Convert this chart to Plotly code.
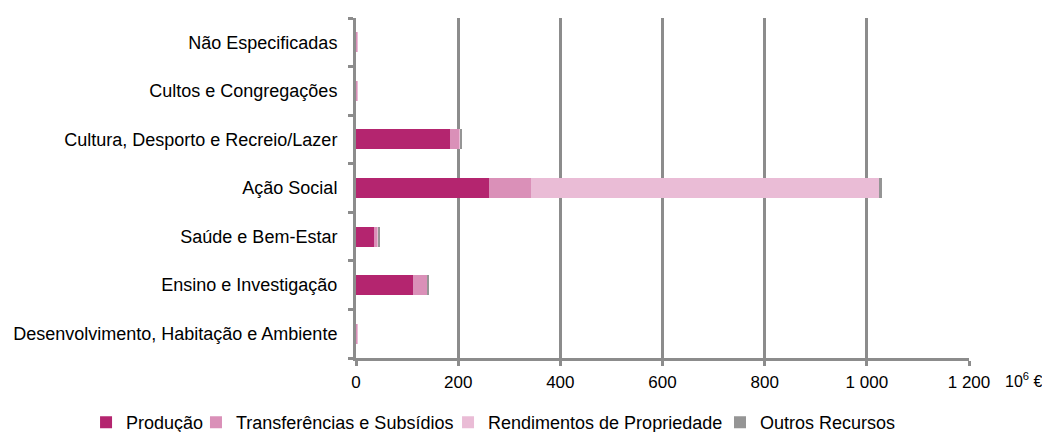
import plotly.graph_objects as go

categories = [
    "Desenvolvimento, Habitação e Ambiente",
    "Ensino e Investigação",
    "Saúde e Bem-Estar",
    "Ação Social",
    "Cultura, Desporto e Recreio/Lazer",
    "Cultos e Congregações",
    "Não Especificadas",
]
producao = [0, 111, 35, 261, 184, 0, 0]
transferencias = [2, 28, 7, 81, 18, 2, 2]
rendimentos = [1, 1, 1, 682, 1, 1, 1]
outros = [0, 3, 4, 6, 5, 0, 0]

series = [
    ("Produção", producao, "#B4256F"),
    ("Transferências e Subsídios", transferencias, "#DA90B8"),
    ("Rendimentos de Propriedade", rendimentos, "#EABCD6"),
    ("Outros Recursos", outros, "#959595"),
]

tick_vals = [0, 200, 400, 600, 800, 1000, 1200]
tick_text = ["0", "200", "400", "600", "800", "1 000", "1 200"]

legend_ids = ["legend", "legend2", "legend3", "legend4"]
legend_x = [0.0749, 0.1804, 0.4223, 0.6833]

fig = go.Figure()
for (name, vals, color), lid in zip(series, legend_ids):
    fig.add_trace(go.Bar(
        y=categories, x=vals, name=name, orientation="h",
        marker=dict(color=color, line=dict(width=0)),
        legend=lid,
    ))

font = "Liberation Sans, Arial, sans-serif"
fig.update_layout(
    barmode="stack",
    bargap=0.59,
    width=1042, height=424,
    margin=dict(l=348, r=81, t=10, b=74, autoexpand=False),
    plot_bgcolor="white", paper_bgcolor="white",
    font=dict(family=font, size=17, color="#000000"),
    xaxis=dict(
        range=[0, 1200], tickvals=tick_vals, ticktext=tick_text,
        showgrid=True, gridcolor="#8C8C8C", gridwidth=3,
        showline=True, linecolor="#8C8C8C", linewidth=3,
        ticks="outside", ticklen=5, tickcolor="#8C8C8C", tickwidth=3,
        ticklabelstandoff=2, tickfont=dict(size=17),
        zeroline=False, fixedrange=True,
    ),
    yaxis=dict(
        categoryorder="array", categoryarray=categories,
        showline=True, linecolor="#8C8C8C", linewidth=3,
        ticks="outside", ticklen=5, tickcolor="#8C8C8C", tickwidth=3,
        tickson="boundaries", showgrid=False, fixedrange=True,
        ticklabelstandoff=12, tickfont=dict(size=18),
    ),
    showlegend=True,
)
for lid, lx in zip(legend_ids, legend_x):
    fig.update_layout({lid: dict(
        orientation="h", xref="container", yref="container",
        x=lx, y=0.022, xanchor="left", yanchor="middle",
        font=dict(size=18), itemwidth=30, bgcolor="rgba(0,0,0,0)",
    )})
fig.add_annotation(
    text="10<sup>6</sup> €", xref="paper", yref="paper",
    x=1.0, y=0, xanchor="left", yanchor="middle", xshift=34, yshift=-22,
    showarrow=False, font=dict(size=16),
)
fig.write_html("out.html")
